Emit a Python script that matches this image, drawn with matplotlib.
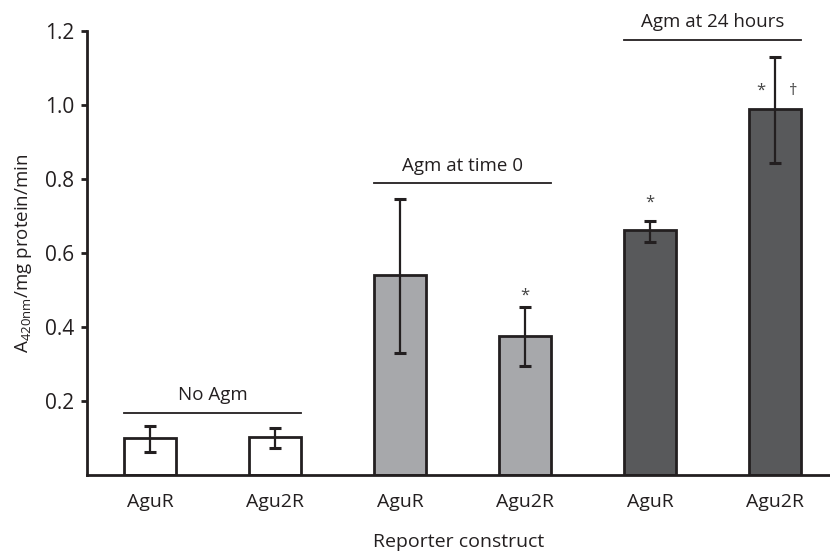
import matplotlib.pyplot as plt

plt.rcParams['font.family'] = ['Open Sans', 'DejaVu Sans']

# data
labels = ["AguR", "Agu2R", "AguR", "Agu2R", "AguR", "Agu2R"]
values = [0.099, 0.104, 0.540, 0.376, 0.662, 0.988]
err_low = [0.036, 0.030, 0.210, 0.081, 0.033, 0.146]
err_high = [0.033, 0.024, 0.206, 0.079, 0.024, 0.142]
colors = ["white", "white", "#a7a8ab", "#a7a8ab", "#58595b", "#58595b"]

groups = ["No Agm", "Agm at time 0", "Agm at 24 hours"]
group_line_y = [0.167, 0.788, 1.176]

# significance marks: (x, y, symbol)
marks = [(3, 0.484, "*"), (4, 0.735, "*"), (4.886, 1.038, "*"), (5.144, 1.038, "\u2020")]

edge = "#231f20"
width = 0.42
x = list(range(len(values)))

fig = plt.figure(figsize=(8.3, 5.53), dpi=100)
ax = fig.add_axes([0.1048, 0.141, 0.8952, 0.803])

ax.bar(x, values, width=width, color=colors, edgecolor=edge, linewidth=2, zorder=2)
ax.errorbar(x, values, yerr=[err_low, err_high], fmt="none", ecolor=edge,
            elinewidth=1.6, capsize=4, capthick=2.2, zorder=3)

for i, (name, ly) in enumerate(zip(groups, group_line_y)):
    x0 = 2 * i - width / 2
    x1 = 2 * i + 1 + width / 2
    ax.plot([x0, x1], [ly, ly], color=edge, lw=1.3, clip_on=False)
    ax.text((x0 + x1) / 2, ly + 0.024, name, ha="center", va="bottom",
            fontsize=13.5, color=edge, clip_on=False)

for mx, my, sym in marks:
    ax.text(mx, my, sym, ha="center", va="center", fontsize=12, color="#444444")

ax.set_xlim(-0.504, 5.44)
ax.set_ylim(0, 1.2)
ax.set_yticks([0.2, 0.4, 0.6, 0.8, 1.0, 1.2])
ax.set_yticklabels(["0.2", "0.4", "0.6", "0.8", "1.0", "1.2"])
ax.set_xticks(x)
ax.set_xticklabels(labels)
ax.tick_params(axis="x", length=0, pad=13, labelsize=14, colors=edge)
ax.tick_params(axis="y", length=4, width=2, pad=5, labelsize=15, colors=edge)

for side in ["top", "right"]:
    ax.spines[side].set_visible(False)
for side in ["left", "bottom"]:
    ax.spines[side].set_linewidth(2)
    ax.spines[side].set_color(edge)

ax.set_xlabel("Reporter construct", fontsize=14, color=edge, labelpad=16)
ax.set_ylabel(r"A$_{\mathregular{420nm}}$/mg protein/min", fontsize=13.5, color=edge, labelpad=8)

fig.savefig("out.png", dpi=100)
